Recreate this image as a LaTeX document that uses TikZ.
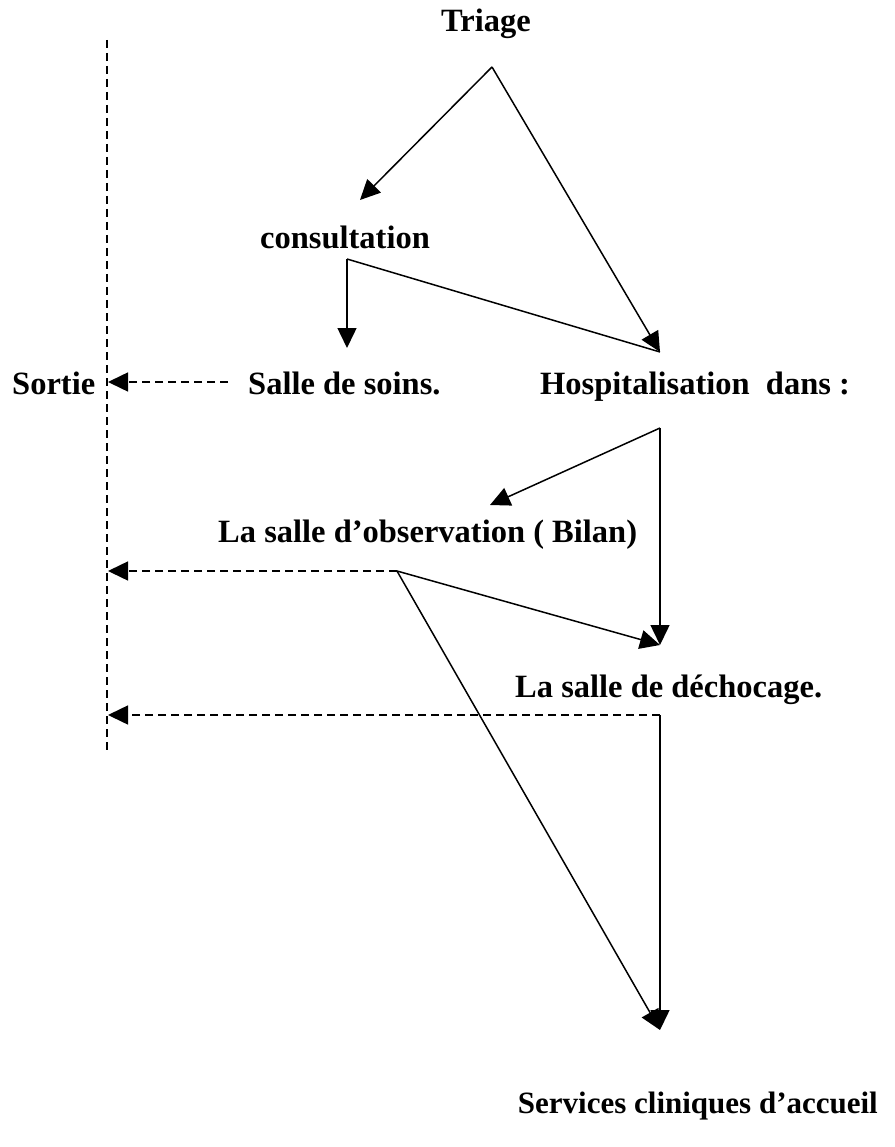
\documentclass[tikz,border=0pt]{standalone}
\usepackage{fontspec}
\setmainfont{Liberation Serif}
\usetikzlibrary{arrows.meta}
\begin{document}
\begin{tikzpicture}[x=1pt,y=-1pt,
  lbl/.style={inner sep=0pt,anchor=base,font=\fontsize{32.5}{38}\selectfont\bfseries},
  link/.style={line width=1.5pt},
  tipped/.style={-{Triangle[length=20pt,width=19pt]}},
  dashln/.style={line width=1.5pt,dash pattern=on 8pt off 5pt}]
\useasboundingbox (0,0) rectangle (894,1147);
% labels
\node[lbl] (triage) at (486,32) {Triage};
\node[lbl] (consult) at (345,249) {consultation};
\node[lbl,anchor=base west] (sortie) at (12,394) {Sortie};
\node[lbl,anchor=base west] (soins) at (248,394) {Salle de soins.};
\node[lbl,anchor=base west] (hosp) at (540,394) {Hospitalisation\ \ dans :};
\node[lbl,anchor=base west] (obs) at (218,542) {La salle d’observation ( Bilan)};
\node[lbl,anchor=base west] (dech) at (515,697) {La salle de déchocage.};
\node[lbl,anchor=base east,font=\fontsize{31}{36}\selectfont\bfseries] (serv) at (878,1113) {Services cliniques d’accueil};
% points
\coordinate (tA) at (492,67);
\coordinate (tC) at (360,200);
\coordinate (tH) at (660,352);
\coordinate (cC) at (347,259);
\coordinate (cS) at (347,348);
\coordinate (sS) at (228,382);
\coordinate (sT) at (108,382);
\coordinate (hC) at (660,428);
\coordinate (hO) at (490,505);
\coordinate (hD) at (660,645);
\coordinate (oC) at (397,571);
\coordinate (oT) at (108,571);
\coordinate (dC) at (660,715);
\coordinate (dT) at (108,715);
\coordinate (sv) at (660,1030);
\coordinate (vTop) at (107,40);
\coordinate (vBot) at (107,750);
% connectors
\draw[dashln] (vTop) -- (vBot);
\draw[link,tipped] (tA) -- (tC);
\draw[link,tipped] (tA) -- (tH);
\draw[link] (cC) -- (tH);
\draw[link,tipped] (cC) -- (cS);
\draw[dashln,tipped] (sS) -- (sT);
\draw[link,tipped] (hC) -- (hO);
\draw[link,tipped] (hC) -- (hD);
\draw[dashln,tipped] (oC) -- (oT);
\draw[link,tipped] (oC) -- (hD);
\draw[link,tipped] (oC) -- (sv);
\draw[dashln,tipped] (dC) -- (dT);
\draw[link,tipped] (dC) -- (sv);
\end{tikzpicture}
\end{document}
